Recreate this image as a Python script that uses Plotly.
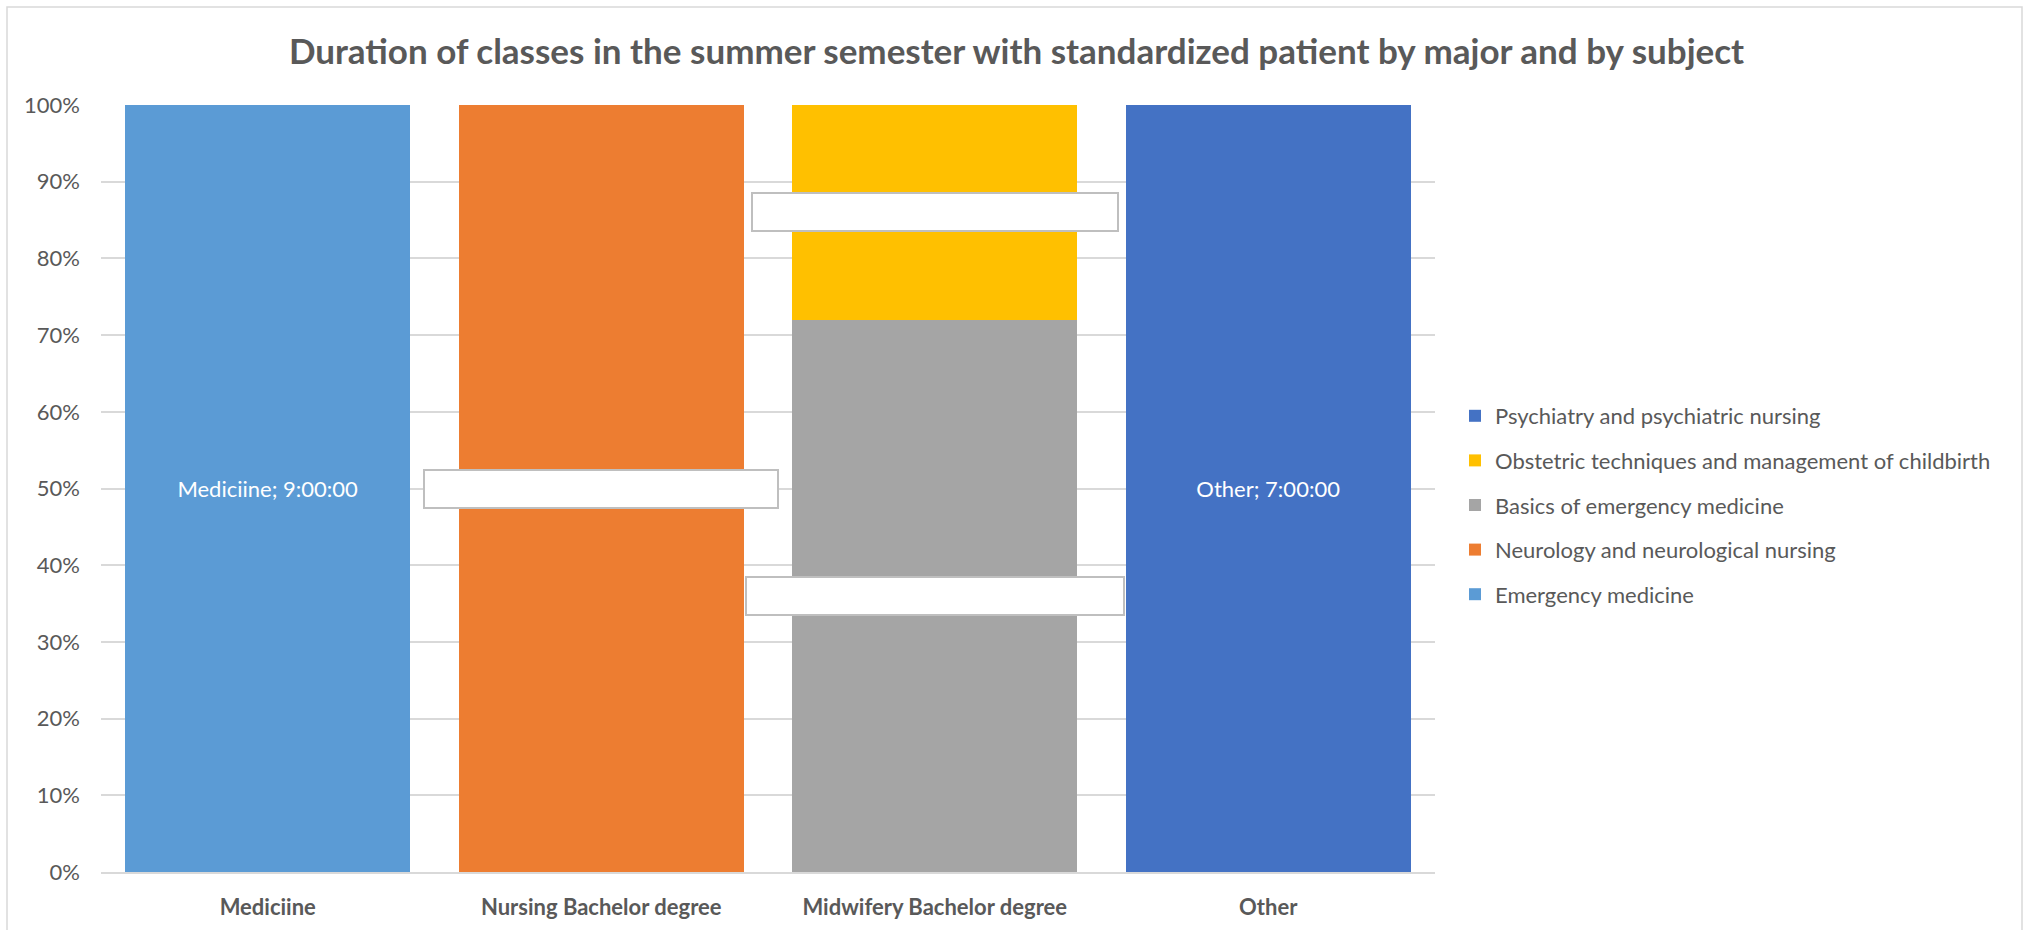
import plotly.graph_objects as go

categories = ["Mediciine", "Nursing Bachelor degree", "Midwifery Bachelor degree", "Other"]
subjects = [
    "Emergency medicine",
    "Neurology and neurological nursing",
    "Basics of emergency medicine",
    "Obstetric techniques and management of childbirth",
    "Psychiatry and psychiatric nursing",
]
colors = ["#5B9BD5", "#ED7D31", "#A5A5A5", "#FFC000", "#4472C4"]
# hours of classes per subject and major (None = not taught)
hours = [
    [9, None, None, None],
    [None, 8, None, None],
    [None, None, 18, None],
    [None, None, 7, None],
    [None, None, None, 7],
]
# which labels are shown with text (others are empty label boxes)
label_text_shown = [
    [True, False, False, False],
    [False, False, False, False],
    [False, False, False, False],
    [False, False, False, False],
    [False, False, False, True],
]

GREY = "#595959"
FONT = "Lato"

fig = go.Figure()
n = len(subjects)
for i, (name, vals, col) in enumerate(zip(subjects, hours, colors)):
    texts = []
    for j, v in enumerate(vals):
        if v is not None and label_text_shown[i][j]:
            texts.append(f"{categories[j]}; {v}:00:00")
        else:
            texts.append("")
    fig.add_trace(go.Bar(
        x=categories, y=vals, name=name, marker=dict(color=col, line=dict(width=0)),
        text=texts, textposition="inside", insidetextanchor="middle",
        textfont=dict(color="white", size=22, family=FONT),
        legendgroup=name, legendrank=n - i, hoverinfo="name+y",
    ))

# empty data-label boxes at the middle of segments without visible text
totals = [sum(v[j] or 0 for v in hours) for j in range(len(categories))]
box_widths = {(1, 1): 350, (2, 2): 374, (3, 2): 362}
annotations = []
for j, cat in enumerate(categories):
    cum = 0
    for i in range(len(subjects)):
        v = hours[i][j]
        if v is None:
            continue
        mid = (cum + v / 2) / totals[j] * 100
        cum += v
        if not label_text_shown[i][j]:
            annotations.append(dict(
                x=cat, y=mid, xref="x", yref="y", text=" ", showarrow=False,
                width=box_widths.get((i, j), 360), height=34,
                bgcolor="white", bordercolor="#BFBFBF", borderwidth=2,
                font=dict(size=16),
            ))

W, H = 2033, 930
L, R, T, B = 101, 598, 105, 58
pw, ph = W - L - R, H - T - B

fig.update_layout(
    width=W, height=H,
    barmode="stack", barnorm="percent", bargap=0.145,
    paper_bgcolor="white", plot_bgcolor="white",
    margin=dict(l=L, r=R, t=T, b=B, autoexpand=False),
    font=dict(family=FONT, color=GREY),
    title=dict(
        text="<b>Duration of classes in the summer semester with standardized patient by major and by subject</b>",
        x=0.5, xref="container", xanchor="center", y=1 - 52 / H, yanchor="middle",
        font=dict(size=35, family=FONT, color=GREY),
    ),
    xaxis=dict(
        tickfont=dict(size=22, family=FONT, color=GREY),
        showgrid=False, showline=True, linecolor="#D9D9D9", linewidth=2,
        ticks="", ticklabelstandoff=15, tickprefix="<b>", ticksuffix="</b>",
    ),
    yaxis=dict(
        range=[0, 100], dtick=10, ticksuffix="%",
        tickfont=dict(size=22, family=FONT, color=GREY),
        showgrid=True, gridcolor="#D9D9D9", gridwidth=1.5,
        zeroline=False, showline=False, ticks="", ticklabelstandoff=20,
    ),
    legend=dict(
        x=(1455 - L) / pw, xanchor="left", y=(H - B - 505) / ph, yanchor="middle",
        traceorder="grouped", tracegroupgap=13,
        font=dict(size=22, family=FONT, color=GREY), itemclick=False,
    ),
    annotations=annotations,
    shapes=[dict(
        type="rect", xref="paper", yref="paper",
        x0=(7 - L) / pw, x1=(2022 - L) / pw, y0=-(B + 10) / ph, y1=(H - B - 7) / ph,
        line=dict(color="#D9D9D9", width=1.5), fillcolor="rgba(0,0,0,0)", layer="below",
    )],
)

fig.write_html("out.html", config={"displayModeBar": False},
               post_script="document.body.style.margin='0';")
